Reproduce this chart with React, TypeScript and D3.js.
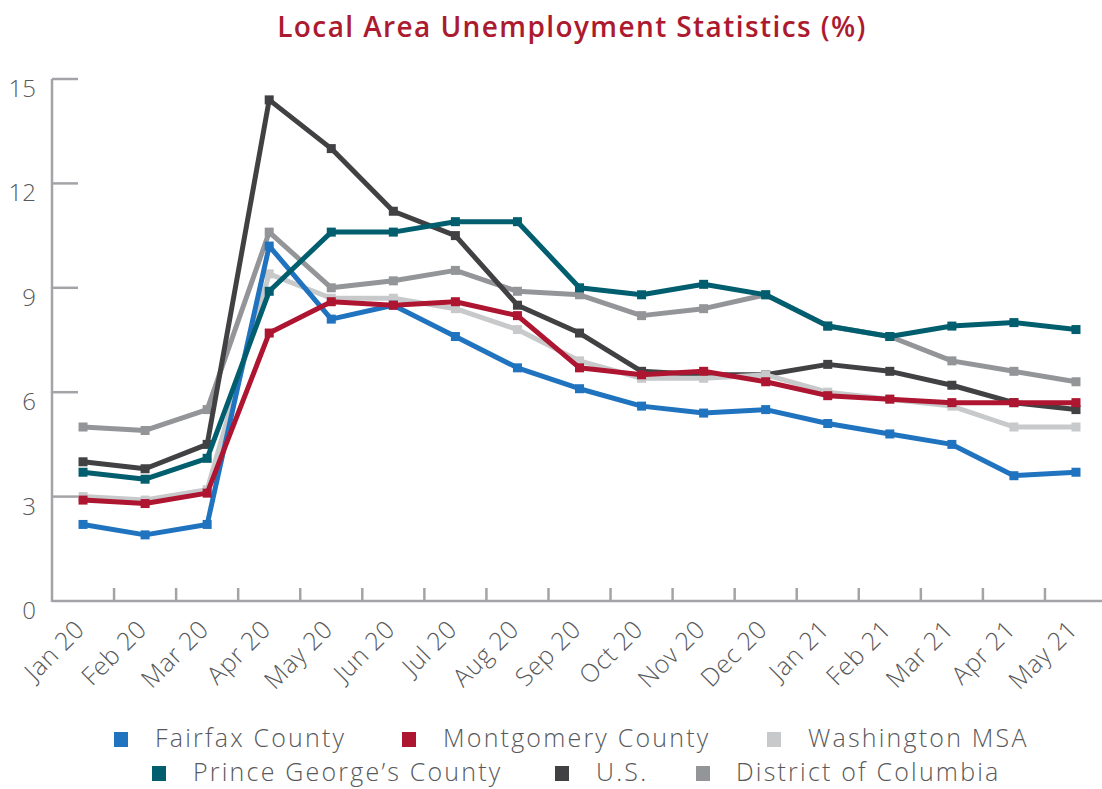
import React from 'react';
import * as d3 from 'd3';

const months = [
  'Jan 20', 'Feb 20', 'Mar 20', 'Apr 20', 'May 20', 'Jun 20', 'Jul 20', 'Aug 20', 'Sep 20',
  'Oct 20', 'Nov 20', 'Dec 20', 'Jan 21', 'Feb 21', 'Mar 21', 'Apr 21', 'May 21',
];

const fairfax = [2.2, 1.9, 2.2, 10.2, 8.1, 8.5, 7.6, 6.7, 6.1, 5.6, 5.4, 5.5, 5.1, 4.8, 4.5, 3.6, 3.7];
const montgomery = [2.9, 2.8, 3.1, 7.7, 8.6, 8.5, 8.6, 8.2, 6.7, 6.5, 6.6, 6.3, 5.9, 5.8, 5.7, 5.7, 5.7];
const washingtonMsa = [3.0, 2.9, 3.2, 9.4, 8.7, 8.7, 8.4, 7.8, 6.9, 6.4, 6.4, 6.5, 6.0, 5.8, 5.6, 5.0, 5.0];
const princeGeorges = [3.7, 3.5, 4.1, 8.9, 10.6, 10.6, 10.9, 10.9, 9.0, 8.8, 9.1, 8.8, 7.9, 7.6, 7.9, 8.0, 7.8];
const us = [4.0, 3.8, 4.5, 14.4, 13.0, 11.2, 10.5, 8.5, 7.7, 6.6, 6.5, 6.5, 6.8, 6.6, 6.2, 5.7, 5.5];
const dc = [5.0, 4.9, 5.5, 10.6, 9.0, 9.2, 9.5, 8.9, 8.8, 8.2, 8.4, 8.8, 7.9, 7.6, 6.9, 6.6, 6.3];

const yTicks = [0, 3, 6, 9, 12, 15];

// legend order, two rows
const legendRows = [
  ['Fairfax County', 'Montgomery County', 'Washington MSA'],
  ["Prince George\u2019s County", 'U.S.', 'District of Columbia'],
];

const series = [
  { name: 'District of Columbia', values: dc, color: '#939598' },
  { name: 'U.S.', values: us, color: '#414143' },
  { name: 'Washington MSA', values: washingtonMsa, color: '#c8c9cb' },
  { name: 'Fairfax County', values: fairfax, color: '#1f73bf' },
  { name: "Prince George\u2019s County", values: princeGeorges, color: '#005e6e' },
  { name: 'Montgomery County', values: montgomery, color: '#ae1530' },
];

const W = 1102, H = 789;
const left = 52, top = 79, bottom = 601;
const axisColor = '#a3a4a7';
const textColor = '#58595b';
const font = "'Open Sans', sans-serif";

// legend layout: square x, label x
const legendPos = [
  [[114, 155], [402, 443], [767, 808]],
  [[152, 193], [555, 596], [696, 736]],
];

export default function App() {
  const x = d3.scaleBand<string>().domain(months).range([left, left + 17 * 62.06]).padding(0);
  const y = d3.scaleLinear().domain([0, 15]).range([bottom, top]);
  const cx = (m: string) => (x(m) as number) + x.bandwidth() / 2;

  const line = d3.line<number>()
    .x((_, i) => cx(months[i]))
    .y(d => y(d));

  const colorOf = (name: string) => series.find(s => s.name === name)!.color;

  return (
    <svg width={W} height={H} style={{ position: 'absolute', left: 0, top: 0, background: '#fff' }}>
      <text x={572} y={37} textAnchor="middle" fontFamily={font} fontWeight={600} fontSize={28}
        letterSpacing={1.4} fill="#ac1a30">Local Area Unemployment Statistics (%)</text>

      {/* y axis */}
      <line x1={left} x2={left} y1={top} y2={bottom + 1} stroke={axisColor} strokeWidth={2.5} />
      {yTicks.filter(t => t > 0).map(t => (
        <line key={t} x1={left} x2={left + 26} y1={y(t)} y2={y(t)} stroke={axisColor} strokeWidth={2.5} />
      ))}
      {yTicks.map(t => (
        <text key={t} x={36} y={y(t) + 18} textAnchor="end" fontFamily={font} fontWeight={300}
          fontSize={24} fill={textColor}>{t}</text>
      ))}

      {/* x axis */}
      <line x1={left} x2={W} y1={bottom} y2={bottom} stroke={axisColor} strokeWidth={2.5} />
      {months.slice(1).map(m => (
        <line key={m} x1={x(m)} x2={x(m)} y1={bottom} y2={bottom - 13} stroke={axisColor} strokeWidth={2.5} />
      ))}
      {months.map(m => (
        <text key={m} transform={`translate(${cx(m) + 3},${631}) rotate(-45)`} textAnchor="end"
          fontFamily={font} fontWeight={300} fontSize={25} letterSpacing={0.5} fill={textColor}>{m}</text>
      ))}

      {/* lines */}
      {series.map(s => (
        <g key={s.name}>
          <path d={line(s.values) || ''} fill="none" stroke={s.color} strokeWidth={5} strokeLinejoin="round" />
          {s.values.map((v, i) => (
            <rect key={i} x={cx(months[i]) - 4.5} y={y(v) - 4.5} width={9} height={9} fill={s.color} />
          ))}
        </g>
      ))}

      {/* legend */}
      {legendRows.map((row, r) => row.map((name, c) => {
        const [sx, tx] = legendPos[r][c];
        const base = r === 0 ? 747 : 781;
        return (
          <g key={name}>
            <rect x={sx} y={base - 15} width={14} height={15} fill={colorOf(name)} />
            <text x={tx} y={base} fontFamily={font} fontWeight={300} fontSize={25} letterSpacing={2.2}
              fill={textColor}>{name}</text>
          </g>
        );
      }))}
    </svg>
  );
}
